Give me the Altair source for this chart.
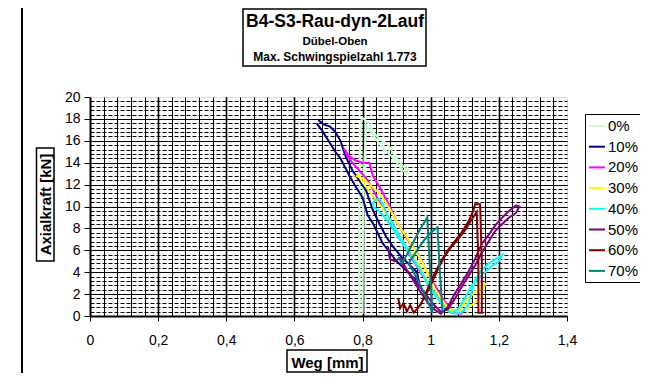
import altair as alt
import pandas as pd

FONT = "Liberation Sans"

series = ["0%", "10%", "20%", "30%", "40%", "50%", "60%", "70%"]
colors = ["#CCFFCC", "#000080", "#FF00FF", "#FFFF00", "#00FFFF", "#800080", "#800000", "#008080"]

w0 = [0.790, 0.790, 0.795, 0.800, 0.815, 0.830, 0.850, 0.870, 0.880, 0.895, 0.910, 0.925, 0.935, 0.930, 0.915, 0.900, 0.885, 0.865, 0.845, 0.825, 0.810, 0.802, 0.800]
f0 = [0.2, 9.0, 17.8, 18.1, 17.7, 16.9, 16.1, 15.8, 15.4, 14.6, 14.0, 13.5, 13.2, 13.0, 13.4, 14.0, 14.6, 15.2, 15.9, 16.8, 17.4, 12.0, 0.2]

w1 = [0.665, 0.680, 0.700, 0.720, 0.735, 0.750, 0.765, 0.780, 0.800, 0.815, 0.830, 0.850, 0.860, 0.880, 0.900, 0.920, 0.945, 0.965, 0.960, 0.940, 0.920, 0.890, 0.870, 0.850, 0.830, 0.810, 0.790, 0.770, 0.750, 0.735, 0.720, 0.705, 0.685, 0.670]
f1 = [17.6, 17.0, 16.0, 15.0, 14.4, 13.5, 12.6, 11.8, 10.8, 9.2, 8.5, 7.2, 6.6, 5.8, 5.0, 4.4, 3.6, 3.2, 4.0, 4.6, 5.2, 6.3, 7.2, 8.4, 9.7, 11.5, 12.4, 13.3, 14.6, 16.0, 16.8, 17.3, 17.5, 17.9]

w2 = [0.745, 0.760, 0.780, 0.800, 0.820, 0.830, 0.850, 0.870, 0.880, 0.900, 0.920, 0.940, 0.960, 0.980, 1.000, 1.020, 1.040, 1.060, 1.080, 1.100, 1.090, 1.060, 1.040, 1.020, 1.000, 0.970, 0.950, 0.930, 0.910, 0.890, 0.870, 0.850, 0.830, 0.810, 0.790, 0.770, 0.750]
f2 = [15.3, 14.6, 14.2, 14.0, 14.0, 12.8, 11.8, 10.6, 10.0, 8.6, 7.6, 6.6, 5.8, 4.6, 3.4, 2.4, 1.4, 0.6, 0.3, 0.6, 0.2, 0.3, 0.9, 1.8, 2.6, 4.0, 5.0, 6.0, 7.0, 8.4, 9.3, 10.4, 11.6, 12.6, 13.3, 14.0, 14.8]

w3 = [0.780, 0.800, 0.820, 0.850, 0.870, 0.890, 0.910, 0.930, 0.950, 0.970, 0.990, 1.010, 1.030, 1.050, 1.070, 1.090, 1.110, 1.130, 1.150, 1.160, 1.150, 1.130, 1.110, 1.080, 1.050, 1.030, 1.000, 0.980, 0.960, 0.940, 0.920, 0.900, 0.880, 0.860, 0.830, 0.800, 0.785]
f3 = [12.8, 12.6, 12.0, 11.2, 10.3, 9.2, 8.1, 7.2, 6.2, 5.2, 4.0, 2.6, 1.6, 0.8, 0.4, 0.8, 1.6, 2.2, 2.6, 3.0, 2.0, 1.2, 0.8, 0.4, 0.6, 1.2, 2.6, 3.8, 5.0, 5.8, 6.8, 7.8, 8.8, 9.8, 11.0, 12.2, 13.0]

w4 = [0.830, 0.835, 0.850, 0.860, 0.870, 0.890, 0.910, 0.930, 0.950, 0.970, 0.990, 1.010, 1.030, 1.050, 1.070, 1.090, 1.110, 1.120, 1.130, 1.150, 1.170, 1.190, 1.210, 1.200, 1.180, 1.160, 1.140, 1.120, 1.100, 1.080, 1.060, 1.040, 1.020, 1.000, 0.980, 0.960, 0.940, 0.920, 0.900, 0.880, 0.860, 0.840, 0.830]
f4 = [10.0, 10.6, 10.7, 10.2, 9.4, 8.3, 7.2, 6.2, 5.2, 4.2, 3.0, 2.0, 1.2, 0.5, 0.2, 0.3, 1.0, 2.2, 3.3, 4.2, 4.8, 5.2, 5.6, 5.0, 4.6, 4.0, 3.4, 2.8, 1.6, 0.6, 0.3, 0.8, 1.6, 2.6, 3.6, 4.6, 5.6, 6.5, 7.4, 8.4, 9.2, 9.8, 10.0]

w5 = [0.875, 0.880, 0.895, 0.910, 0.930, 0.950, 0.970, 0.990, 1.010, 1.030, 1.050, 1.070, 1.090, 1.110, 1.130, 1.150, 1.170, 1.190, 1.210, 1.230, 1.250, 1.260, 1.250, 1.230, 1.210, 1.190, 1.170, 1.150, 1.130, 1.110, 1.090, 1.070, 1.050, 1.030, 1.010, 0.990, 0.970, 0.950, 0.930, 0.910]
f5 = [6.3, 5.2, 5.0, 5.3, 4.2, 3.2, 2.2, 1.3, 0.6, 0.2, 0.8, 2.0, 3.0, 4.0, 5.2, 6.6, 7.4, 8.3, 9.0, 9.6, 10.1, 10.0, 9.4, 9.0, 8.4, 7.8, 6.8, 5.8, 4.6, 3.6, 2.6, 1.5, 0.6, 0.4, 1.0, 1.8, 2.6, 3.4, 4.2, 4.8]

w6 = [0.905, 0.910, 0.920, 0.930, 0.940, 0.950, 0.970, 0.990, 1.010, 1.030, 1.050, 1.070, 1.090, 1.110, 1.125, 1.130, 1.145, 1.150, 1.150, 1.140, 1.140, 1.135, 1.120, 1.100, 1.080, 1.060, 1.040, 1.020, 1.000, 0.980, 0.960]
f6 = [1.6, 0.7, 1.2, 0.4, 1.0, 0.3, 1.0, 2.4, 3.8, 5.0, 6.0, 6.8, 7.6, 8.6, 9.6, 10.2, 10.2, 5.0, 0.3, 0.3, 5.0, 9.5, 8.8, 7.8, 7.0, 6.3, 5.4, 4.2, 2.8, 1.6, 0.6]

w7 = [0.905, 0.915, 0.930, 0.950, 0.970, 0.990, 0.995, 1.000, 1.005, 0.990, 0.970, 0.950, 0.935, 0.960, 0.980, 1.000, 1.020, 1.025, 1.030, 1.035]
f7 = [5.4, 4.8, 5.6, 6.8, 8.0, 9.0, 6.0, 3.0, 0.3, 1.4, 2.8, 4.0, 4.8, 6.0, 6.9, 7.6, 8.1, 5.0, 2.5, 0.3]

x_ticks = [0, 0.2, 0.4, 0.6, 0.8, 1.0, 1.2, 1.4]
y_ticks = [0, 2, 4, 6, 8, 10, 12, 14, 16, 18, 20]

title_lines = ["B4-S3-Rau-dyn-2Lauf", "Dübel-Oben", "Max. Schwingspielzahl 1.773"]
x_title = "Weg [mm]"
y_title = "Axialkraft [kN]"

ws = [w0, w1, w2, w3, w4, w5, w6, w7]
fs = [f0, f1, f2, f3, f4, f5, f6, f7]
rows = []
for name, w, f in zip(series, ws, fs):
    assert len(w) == len(f), name
    for i, (a, b) in enumerate(zip(w, f)):
        rows.append({"Serie": name, "Weg": a, "Kraft": b, "i": i})
df = pd.DataFrame(rows)

x_minor = [round(i * 0.04, 2) for i in range(1, 35)]
y_minor = [round(i * 0.4, 1) for i in range(1, 50)]
x_major = x_ticks[1:-1]
y_major = y_ticks[1:-1]

xs = alt.Scale(domain=[0, 1.4], nice=False, zero=False)
ys = alt.Scale(domain=[0, 20], nice=False)

base = alt.Chart(df)


def grid_axis(orient, values, dash=None, width=1.0):
    kw = dict(orient=orient, values=values, grid=True, gridColor="black", gridWidth=width,
              gridOpacity=1, domain=False, ticks=False, labels=False, title=None)
    if dash:
        kw["gridDash"] = dash
    return alt.Axis(**kw)


grid_minor = base.mark_line(opacity=0).encode(
    x=alt.X("Weg:Q", scale=xs, axis=grid_axis("bottom", x_minor, width=1)),
    y=alt.Y("Kraft:Q", scale=ys, axis=grid_axis("left", y_minor, dash=[4, 2], width=1)),
    detail="Serie:N",
)
grid_major = base.mark_line(opacity=0).encode(
    x=alt.X("Weg:Q", scale=xs, axis=grid_axis("bottom", x_major, width=1.6)),
    y=alt.Y("Kraft:Q", scale=ys, axis=grid_axis("left", y_major, width=1.2)),
    detail="Serie:N",
)

lines = base.mark_line(strokeWidth=2).encode(
    x=alt.X("Weg:Q", scale=xs, axis=alt.Axis(
        orient="bottom", values=x_ticks, grid=False, title=x_title,
        labelExpr="replace(format(datum.value, '~g'), '.', ',')",
        labelFont=FONT, labelFontSize=14, labelColor="black", labelPadding=12,
        labelFlush=False, labelOverlap=False,
        domainColor="black", domainWidth=2, tickColor="black", tickSize=5, tickWidth=1,
        titleFont=FONT, titleFontSize=15, titleFontWeight="bold", titleColor="black",
        titleX=237, titleY=46, titleBaseline="middle", titleAlign="center")),
    y=alt.Y("Kraft:Q", scale=ys, axis=alt.Axis(
        orient="left", values=y_ticks, grid=False, title=y_title,
        labelFont=FONT, labelFontSize=14, labelColor="black", labelPadding=4,
        labelFlush=False, labelOverlap=False,
        domainColor="black", domainWidth=2, tickColor="black", tickSize=6, tickWidth=1,
        titleFont=FONT, titleFontSize=15, titleFontWeight="bold", titleColor="black",
        titleX=-45, titleY=107, titleAngle=270, titleBaseline="middle", titleAlign="center")),
    color=alt.Color("Serie:N", scale=alt.Scale(domain=series, range=colors),
                    sort=series,
                    legend=alt.Legend(orient="none", legendX=495, legendY=17, title=None,
                                      symbolType="stroke", symbolSize=256, symbolStrokeWidth=2,
                                      labelFont=FONT, labelFontSize=15, labelColor="black",
                                      labelOffset=2, rowPadding=3.7, padding=3,
                                      strokeColor="black", fillColor="white")),
    order="i:Q",
)

one = pd.DataFrame({"k": [0]})
deco = alt.Chart(one)

frame_left = deco.mark_rule(color="black", strokeWidth=2).encode(
    x=alt.value(-68), y=alt.value(-89), y2=alt.value(276))
title_box = deco.mark_rect(fill="white", stroke="black", strokeWidth=1.5).encode(
    x=alt.value(153), x2=alt.value(336), y=alt.value(-88), y2=alt.value(-31))
t1 = deco.mark_text(text=title_lines[0], font=FONT, fontSize=17.5, fontWeight="bold",
                    align="center", baseline="middle", color="black").encode(
    x=alt.value(245), y=alt.value(-75))
t2 = deco.mark_text(text=title_lines[1], font=FONT, fontSize=11.5, fontWeight="bold",
                    align="center", baseline="middle", color="black").encode(
    x=alt.value(245), y=alt.value(-55))
t3 = deco.mark_text(text=title_lines[2], font=FONT, fontSize=12, fontWeight="bold",
                    align="center", baseline="middle", color="black").encode(
    x=alt.value(245), y=alt.value(-40))
ybox = deco.mark_rect(fillOpacity=0, stroke="black", strokeWidth=1.5).encode(
    x=alt.value(-53.5), x2=alt.value(-36), y=alt.value(51), y2=alt.value(164))
xbox = deco.mark_rect(fillOpacity=0, stroke="black", strokeWidth=1.5).encode(
    x=alt.value(197), x2=alt.value(277), y=alt.value(253), y2=alt.value(275))

chart = alt.layer(
    grid_minor, grid_major, lines, frame_left, title_box, t1, t2, t3, ybox, xbox
).resolve_axis(
    x="independent", y="independent"
).properties(
    width=477, height=219,
    padding={"left": 82, "top": 89, "right": 73, "bottom": 57},
    autosize=alt.AutoSizeParams(type="none"),
    background="white",
).configure_view(
    stroke="#808080", strokeWidth=2
).configure_legend(
    strokeWidth=1.5
).configure(font=FONT)

chart.save("out.html", embed_options={"renderer": "svg", "actions": False})
